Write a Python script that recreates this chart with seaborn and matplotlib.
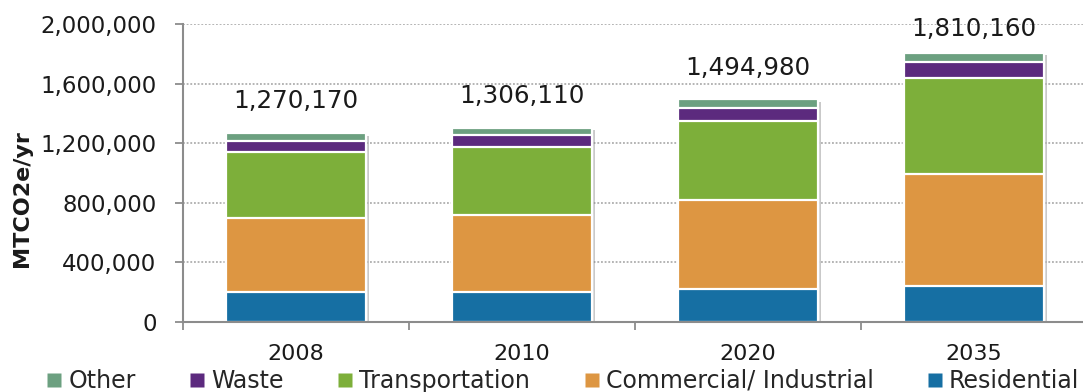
import numpy as np
import pandas as pd
import matplotlib
matplotlib.use("Agg")
import matplotlib.pyplot as plt
import matplotlib.patheffects as pe
from matplotlib.lines import Line2D
from matplotlib.ticker import FuncFormatter, FixedLocator
import seaborn as sns

# ---------------- data ----------------
years = ["2008", "2010", "2020", "2035"]
residential = [200000, 204000, 219000, 244000]
commercial = [500000, 517000, 600000, 750000]
transportation = [443000, 455000, 531000, 643000]
waste = [72000, 78000, 87000, 110000]
other = [55170, 52110, 57980, 63160]
total_labels = ["1,270,170", "1,306,110", "1,494,980", "1,810,160"]

series_names = ["Residential", "Commercial/ Industrial", "Transportation", "Waste", "Other"]
series_values = [residential, commercial, transportation, waste, other]
colors = {
    "Residential": "#166FA3",
    "Commercial/ Industrial": "#DD9642",
    "Transportation": "#7DAF3A",
    "Waste": "#5C2A7E",
    "Other": "#6CA080",
}
legend_order = ["Other", "Waste", "Transportation", "Commercial/ Industrial", "Residential"]

# ---------------- style ----------------
sns.set_style("white")
plt.rcParams["font.family"] = ["DejaVu Sans"]

W, H = 1083, 392
fig = plt.figure(figsize=(W / 100, H / 100), dpi=100)
ax = fig.add_axes([183 / W, (H - 322) / H, 904 / W, 297.7 / H])

df = pd.DataFrame({"year": years})
for name, vals in zip(series_names, series_values):
    df[name] = vals
cum = df[series_names].cumsum(axis=1)
totals = cum[series_names[-1]].values

bar_w = 0.62
# shadow bar behind stack
sns.barplot(x=df["year"], y=totals, color="white", width=bar_w, linewidth=0,
            ax=ax, zorder=2)
for p in ax.patches:
    p.set_path_effects([pe.SimplePatchShadow(offset=(2, -2), shadow_rgbFace="#888888", alpha=0.45),
                        pe.Normal()])

# stacked bars: draw cumulative totals from top series down
for name in reversed(series_names):
    sns.barplot(x=df["year"], y=cum[name].values, color=colors[name], width=bar_w,
                edgecolor="white", linewidth=1.6, ax=ax, zorder=3, saturation=1)

# total labels
for i, (t, lab) in enumerate(zip(totals, total_labels)):
    ax.text(i, min(t + 165000, 1920000), lab, ha="center", va="baseline",
            fontsize=17.7, color="#1a1a1a", zorder=5)

# axes formatting
ax.set_xlim(-0.5, 3.5)
ax.set_ylim(0, 2000000)
ax.set_yticks(np.arange(0, 2000001, 400000))
ax.yaxis.set_major_formatter(FuncFormatter(lambda v, _: f"{int(v):,}"))
ax.grid(axis="y", color="#a0a0a0", linestyle=(0, (1.2, 1.2)), linewidth=1.1)
ax.grid(axis="x", visible=False)
ax.set_axisbelow(True)

for s in ["top", "right"]:
    ax.spines[s].set_visible(False)
for s in ["left", "bottom"]:
    ax.spines[s].set_color("#8c8c8c")
    ax.spines[s].set_linewidth(1.5)
ax.spines["bottom"].set_zorder(6)

ax.tick_params(axis="y", direction="out", length=6, width=1.3, color="#8c8c8c",
               pad=13, labelsize=16.5, labelcolor="#1a1a1a", left=True)
ax.tick_params(axis="x", which="major", length=0, pad=16, labelsize=16,
               labelcolor="#1a1a1a")
ax.xaxis.set_minor_locator(FixedLocator([-0.5, 0.5, 1.5, 2.5, 3.5]))
ax.tick_params(axis="x", which="minor", direction="out", length=6, width=1.3,
               color="#8c8c8c", bottom=True)

ax.set_xlabel("")
ax.set_ylabel("")
fig.text(22 / W, (H - 199) / H, "MTCO2e/yr", rotation=90, ha="center", va="center",
         fontsize=16, fontweight="bold", color="#1a1a1a")

handles = [Line2D([0], [0], marker="s", linestyle="none", markersize=10,
                  markerfacecolor=colors[n], markeredgecolor="none") for n in legend_order]
fig.legend(handles, legend_order, loc="center left",
           bbox_to_anchor=(47 / W, 11 / H), bbox_transform=fig.transFigure,
           ncol=5, frameon=False, fontsize=17, handlelength=0.6,
           handletextpad=0.3, columnspacing=2.3, borderpad=0, borderaxespad=0)

fig.savefig("out.png", dpi=100)
